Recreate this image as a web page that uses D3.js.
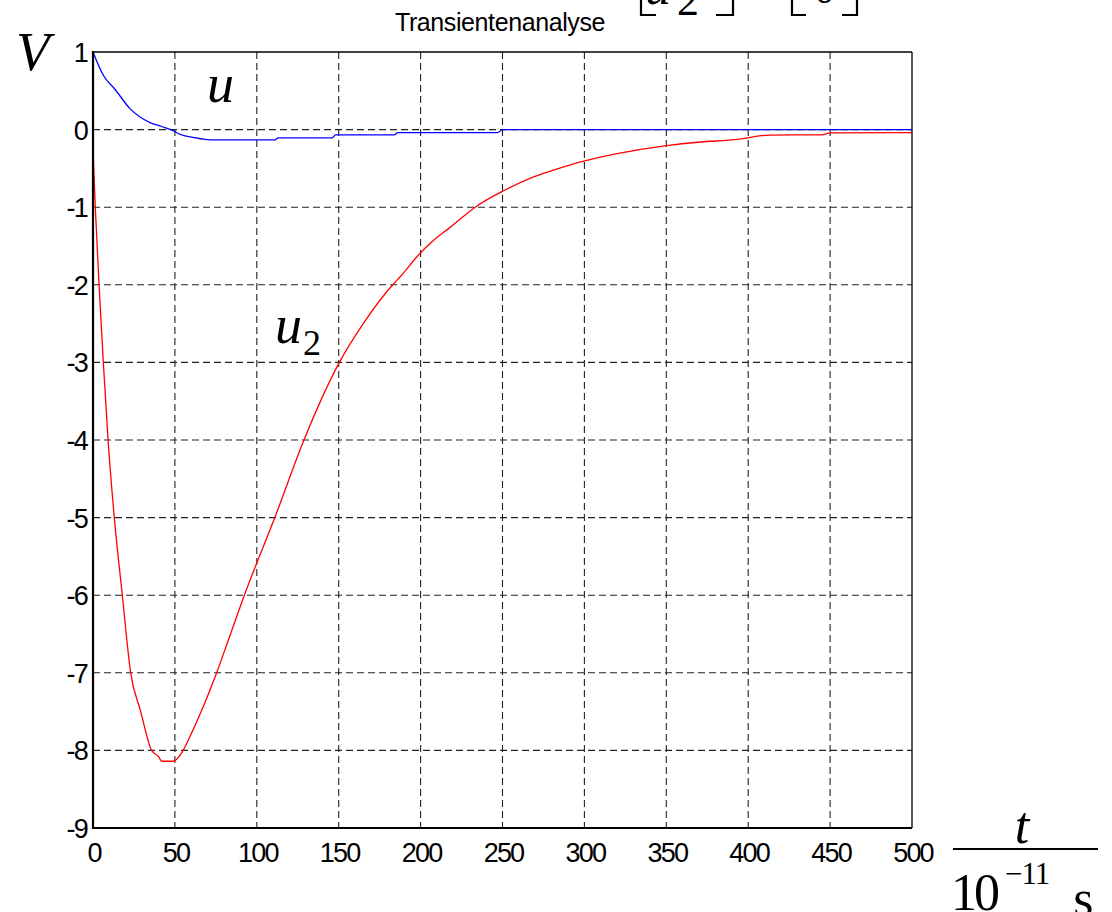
<!DOCTYPE html>
<html>
<head>
<meta charset="utf-8">
<script src="https://cdn.jsdelivr.net/npm/d3@7"></script>
<style>
  html, body { margin: 0; padding: 0; background: #fff; }
  svg { display: block; }
</style>
</head>
<body>
<svg id="chart" width="1112" height="912"></svg>
<script>
// ---- data ----
const title = "Transientenanalyse";
const xTicks = [0, 50, 100, 150, 200, 250, 300, 350, 400, 450, 500];
const yTicks = [1, 0, -1, -2, -3, -4, -5, -6, -7, -8, -9];

// u (blue): [t, V]
const uT = [0, 6.3, 13.4, 22.6, 34.8, 41.9, 48.6, 53, 61, 74.5, 111, 113, 146, 148, 184, 186, 247, 250, 500];
const uV = [1, 0.70, 0.52, 0.27, 0.09, 0.04, -0.01, -0.06, -0.10, -0.133, -0.133, -0.107, -0.107, -0.068, -0.068, -0.04, -0.04, 0, 0];

// u2 (red): [t, V]
const u2T = [0, 1.4, 3.7, 6.3, 9.2, 13, 17.9, 23, 29, 35.8, 40, 42, 49, 55, 59, 75.5, 82.6, 92.4, 111, 128.8, 150.4, 165, 183, 187.4, 199, 207.8, 218, 234, 250, 269, 283, 299, 320, 349, 371, 392, 413, 445, 450, 500];
const u2V = [-0.25, -1, -2, -3, -4, -5, -6, -7, -7.49, -8, -8.08, -8.14, -8.14, -8.0, -7.83, -7, -6.58, -6, -5, -4, -3, -2.5, -2, -1.9, -1.61, -1.43, -1.26, -0.99, -0.795, -0.61, -0.51, -0.41, -0.31, -0.21, -0.16, -0.13, -0.07, -0.068, -0.043, -0.04];

// ---- drawing ----
const svg = d3.select("#chart");
const L = 93, R = 912, T = 52, B = 828;
const x = d3.scaleLinear().domain([0, 500]).range([L, R]);
const y = d3.scaleLinear().domain([-9, 1]).range([B, T]);

// grid
const grid = svg.append("g");
grid.selectAll("line.gx").data(xTicks.slice(1, -1)).join("line")
  .attr("x1", d => x(d)).attr("x2", d => x(d))
  .attr("y1", T).attr("y2", B)
  .attr("stroke", "#222").attr("stroke-width", 1.1)
  .attr("stroke-dasharray", "7,4");
grid.selectAll("line.gy").data(yTicks.slice(1, -1)).join("line")
  .attr("x1", L).attr("x2", R)
  .attr("y1", d => y(d)).attr("y2", d => y(d))
  .attr("stroke", "#222").attr("stroke-width", 1.1)
  .attr("stroke-dasharray", "7,4");

// curves
const line = d3.line().x(d => x(d[0])).y(d => y(d[1])).curve(d3.curveMonotoneX);
svg.append("path").datum(u2T.map((t, i) => [t, u2V[i]]))
  .attr("d", line).attr("fill", "none").attr("stroke", "#ff0000").attr("stroke-width", 1.3);
svg.append("path").datum(uT.map((t, i) => [t, uV[i]]))
  .attr("d", line).attr("fill", "none").attr("stroke", "#0000ff").attr("stroke-width", 1.3);

// box
svg.append("line").attr("x1", L).attr("x2", R).attr("y1", T).attr("y2", T).attr("stroke", "#000").attr("stroke-width", 1.3);
svg.append("line").attr("x1", R).attr("x2", R).attr("y1", T).attr("y2", B).attr("stroke", "#000").attr("stroke-width", 1.3);
svg.append("line").attr("x1", L).attr("x2", R).attr("y1", B).attr("y2", B).attr("stroke", "#000").attr("stroke-width", 2);
svg.append("line").attr("x1", L).attr("x2", L).attr("y1", T - 1).attr("y2", B + 1).attr("stroke", "#000").attr("stroke-width", 2.2);

// tick labels
const tickFont = "'Liberation Sans', Arial, sans-serif";
svg.append("g").selectAll("text").data(xTicks).join("text")
  .attr("x", d => x(d) + 1).attr("y", 862)
  .attr("text-anchor", "middle")
  .attr("font-family", tickFont).attr("font-size", 27).attr("letter-spacing", "-1.8px")
  .attr("fill", "#000").text(d => d);
svg.append("g").selectAll("text").data(yTicks).join("text")
  .attr("x", 87).attr("y", d => y(d) + 10)
  .attr("text-anchor", "end")
  .attr("font-family", tickFont).attr("font-size", 27).attr("letter-spacing", "-1.8px")
  .attr("fill", "#000").text(d => d);

// title
svg.append("text").attr("x", 500).attr("y", 31).attr("text-anchor", "middle")
  .attr("font-family", tickFont).attr("font-size", 25).attr("letter-spacing", "-0.4px")
  .attr("fill", "#000").text(title);

// clipped matrix formula fragments at the top (cut off in the reference as well)
const serif = "'Liberation Serif', 'Times New Roman', serif";
const br = svg.append("g").attr("stroke", "#000").attr("stroke-width", 2.2).attr("fill", "none");
br.append("path").attr("d", "M641,0 V15 H656");
br.append("path").attr("d", "M716,15 H733 V0");
br.append("path").attr("d", "M792,0 V15 H806");
br.append("path").attr("d", "M842,15 H857 V0");
svg.append("text").attr("x", 645).attr("y", 4).attr("font-family", serif).attr("font-style", "italic")
  .attr("font-size", 52).attr("fill", "#000").text("u");
svg.append("text").attr("x", 677).attr("y", 15).attr("font-family", serif)
  .attr("font-size", 44).attr("fill", "#000").text("2");
svg.append("text").attr("x", 814).attr("y", 3).attr("font-family", serif)
  .attr("font-size", 42).attr("fill", "#000").text("0");

// axis labels
svg.append("text").attr("x", 16).attr("y", 70).attr("font-family", serif).attr("font-style", "italic")
  .attr("font-size", 55).attr("fill", "#000").text("V");
svg.append("text").attr("x", 207).attr("y", 102).attr("font-family", serif).attr("font-style", "italic")
  .attr("font-size", 54).attr("fill", "#000").text("u");
const u2lab = svg.append("text").attr("x", 275).attr("y", 343).attr("font-family", serif).attr("fill", "#000");
u2lab.append("tspan").attr("font-style", "italic").attr("font-size", 54).text("u");
u2lab.append("tspan").attr("font-size", 36).attr("dy", 12).attr("dx", 1).text("2");

svg.append("text").attr("x", 1022).attr("y", 843).attr("text-anchor", "middle")
  .attr("font-family", serif).attr("font-style", "italic").attr("font-size", 52).attr("fill", "#000").text("t");
svg.append("line").attr("x1", 953).attr("x2", 1098).attr("y1", 849).attr("y2", 849)
  .attr("stroke", "#000").attr("stroke-width", 2);
const den = svg.append("text").attr("x", 951).attr("y", 910).attr("font-family", serif).attr("fill", "#000");
den.append("tspan").attr("font-size", 52).attr("letter-spacing", "-3px").text("10");
den.append("tspan").attr("font-size", 31).attr("dy", -26).attr("dx", 8).attr("letter-spacing", "-1px").text("\u221211");
den.append("tspan").attr("font-size", 52).attr("dy", 32).attr("dx", 24).text("s");
</script>
</body>
</html>
